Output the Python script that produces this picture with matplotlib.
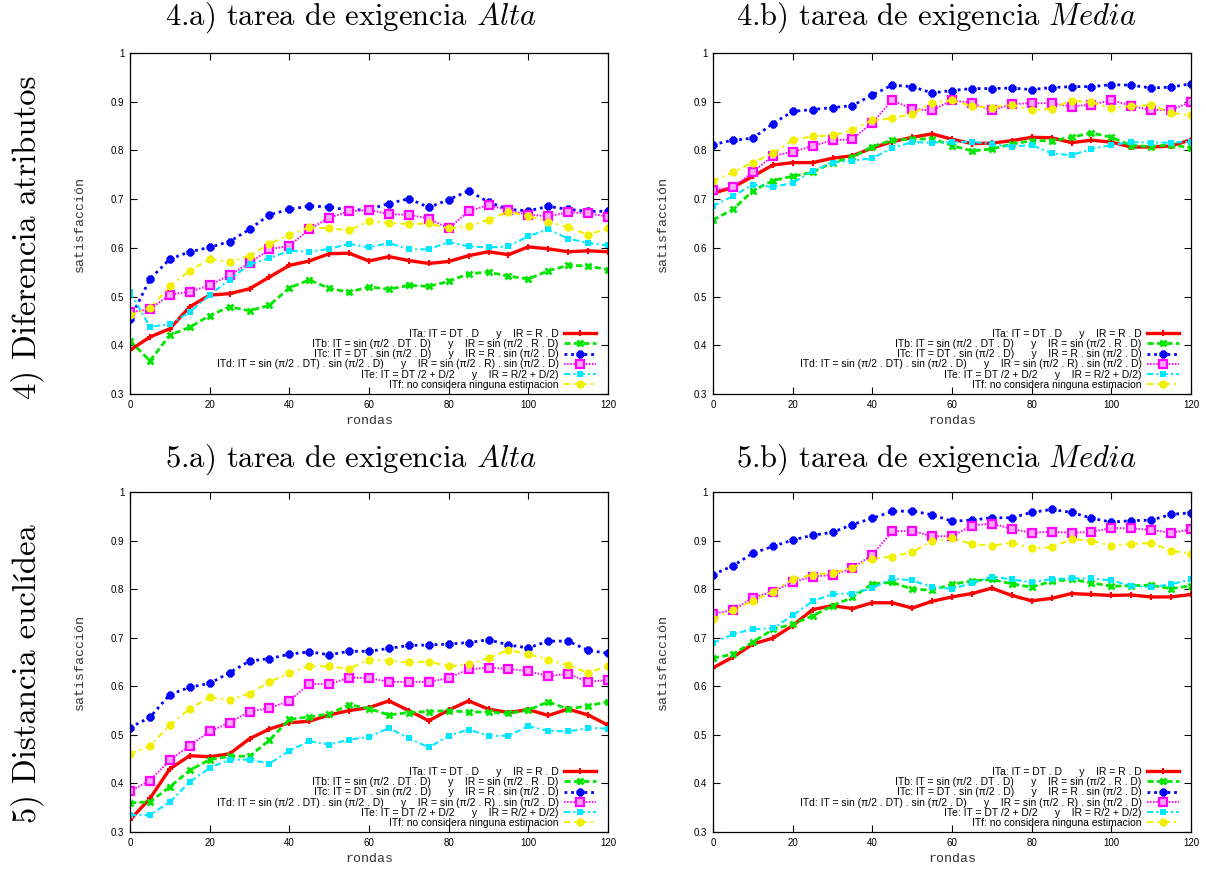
import matplotlib
matplotlib.use("Agg")
import matplotlib.pyplot as plt
from matplotlib.ticker import FixedLocator, FormatStrFormatter

plt.rcParams["mathtext.fontset"] = "cm"
plt.rcParams["font.family"] = "Liberation Sans"

rondas = [0, 5, 10, 15, 20, 25, 30, 35, 40, 45, 50, 55, 60,
          65, 70, 75, 80, 85, 90, 95, 100, 105, 110, 115, 120]

# 4.a) diferencia de atributos, exigencia alta
dif_alta_a = [0.390, 0.417, 0.434, 0.479, 0.503, 0.506, 0.516, 0.540, 0.564, 0.573, 0.588, 0.589, 0.573,
              0.582, 0.574, 0.568, 0.572, 0.584, 0.592, 0.586, 0.602, 0.598, 0.592, 0.594, 0.592]
dif_alta_b = [0.409, 0.368, 0.421, 0.437, 0.461, 0.479, 0.471, 0.482, 0.518, 0.534, 0.517, 0.509, 0.520,
              0.515, 0.523, 0.521, 0.531, 0.547, 0.550, 0.542, 0.536, 0.553, 0.564, 0.563, 0.555]
dif_alta_c = [0.453, 0.536, 0.577, 0.592, 0.601, 0.613, 0.638, 0.668, 0.679, 0.686, 0.684, 0.677, 0.679,
              0.691, 0.701, 0.683, 0.699, 0.717, 0.694, 0.679, 0.676, 0.685, 0.679, 0.675, 0.675]
dif_alta_d = [0.468, 0.474, 0.504, 0.510, 0.523, 0.544, 0.569, 0.597, 0.604, 0.638, 0.662, 0.675, 0.678,
              0.669, 0.668, 0.660, 0.640, 0.675, 0.688, 0.677, 0.668, 0.665, 0.673, 0.671, 0.664]
dif_alta_e = [0.509, 0.438, 0.443, 0.468, 0.503, 0.535, 0.566, 0.579, 0.594, 0.592, 0.598, 0.608, 0.601,
              0.610, 0.597, 0.597, 0.612, 0.603, 0.601, 0.603, 0.624, 0.638, 0.619, 0.610, 0.605]
dif_alta_f = [0.462, 0.476, 0.521, 0.553, 0.577, 0.571, 0.584, 0.608, 0.627, 0.642, 0.640, 0.636, 0.655,
              0.651, 0.649, 0.650, 0.640, 0.645, 0.658, 0.674, 0.665, 0.654, 0.642, 0.627, 0.640]

# 4.b) diferencia de atributos, exigencia media
dif_media_a = [0.712, 0.724, 0.747, 0.770, 0.775, 0.775, 0.784, 0.789, 0.805, 0.818, 0.827, 0.834, 0.823,
               0.814, 0.815, 0.820, 0.827, 0.826, 0.816, 0.821, 0.817, 0.807, 0.807, 0.809, 0.822]
dif_media_b = [0.657, 0.679, 0.717, 0.738, 0.747, 0.755, 0.775, 0.786, 0.808, 0.821, 0.823, 0.824, 0.810,
               0.799, 0.803, 0.813, 0.820, 0.820, 0.827, 0.836, 0.827, 0.810, 0.808, 0.812, 0.805]
dif_media_c = [0.812, 0.821, 0.825, 0.855, 0.880, 0.884, 0.888, 0.892, 0.914, 0.934, 0.931, 0.918, 0.923,
               0.927, 0.927, 0.928, 0.925, 0.929, 0.931, 0.931, 0.935, 0.934, 0.928, 0.930, 0.937]
dif_media_d = [0.718, 0.725, 0.755, 0.789, 0.797, 0.809, 0.821, 0.823, 0.857, 0.903, 0.885, 0.882, 0.903,
               0.897, 0.882, 0.895, 0.897, 0.897, 0.890, 0.894, 0.903, 0.892, 0.882, 0.884, 0.899]
dif_media_e = [0.686, 0.706, 0.730, 0.725, 0.733, 0.758, 0.775, 0.779, 0.784, 0.805, 0.817, 0.816, 0.817,
               0.818, 0.813, 0.808, 0.811, 0.794, 0.790, 0.803, 0.811, 0.817, 0.816, 0.816, 0.818]
dif_media_f = [0.737, 0.755, 0.775, 0.794, 0.821, 0.829, 0.831, 0.842, 0.862, 0.866, 0.875, 0.897, 0.903,
               0.891, 0.888, 0.894, 0.882, 0.886, 0.902, 0.899, 0.887, 0.891, 0.893, 0.877, 0.872]

# 5.a) distancia euclidea, exigencia alta
euc_alta_a = [0.325, 0.369, 0.430, 0.457, 0.455, 0.461, 0.492, 0.512, 0.525, 0.528, 0.541, 0.550, 0.556,
              0.570, 0.550, 0.529, 0.551, 0.570, 0.553, 0.546, 0.552, 0.540, 0.553, 0.541, 0.520]
euc_alta_b = [0.360, 0.362, 0.393, 0.427, 0.449, 0.456, 0.456, 0.489, 0.532, 0.537, 0.543, 0.562, 0.554,
              0.541, 0.546, 0.548, 0.550, 0.547, 0.547, 0.544, 0.551, 0.568, 0.553, 0.560, 0.568]
euc_alta_c = [0.515, 0.536, 0.583, 0.598, 0.606, 0.628, 0.652, 0.657, 0.666, 0.671, 0.665, 0.672, 0.672,
              0.678, 0.684, 0.685, 0.687, 0.690, 0.696, 0.685, 0.679, 0.693, 0.693, 0.674, 0.668]
euc_alta_d = [0.384, 0.406, 0.448, 0.478, 0.507, 0.525, 0.548, 0.555, 0.570, 0.605, 0.604, 0.618, 0.617,
              0.609, 0.609, 0.609, 0.617, 0.635, 0.638, 0.636, 0.631, 0.621, 0.626, 0.609, 0.613]
euc_alta_e = [0.335, 0.335, 0.362, 0.403, 0.432, 0.449, 0.449, 0.441, 0.467, 0.487, 0.480, 0.490, 0.496,
              0.514, 0.493, 0.474, 0.498, 0.511, 0.498, 0.498, 0.518, 0.508, 0.507, 0.514, 0.513]
euc_alta_f = [0.461, 0.477, 0.520, 0.554, 0.577, 0.572, 0.585, 0.609, 0.627, 0.642, 0.641, 0.636, 0.655,
              0.653, 0.649, 0.651, 0.641, 0.645, 0.658, 0.675, 0.666, 0.655, 0.643, 0.628, 0.642]

# 5.b) distancia euclidea, exigencia media
euc_media_a = [0.638, 0.660, 0.687, 0.699, 0.725, 0.758, 0.766, 0.760, 0.772, 0.772, 0.761, 0.775, 0.784,
               0.791, 0.802, 0.787, 0.776, 0.781, 0.791, 0.789, 0.787, 0.788, 0.784, 0.784, 0.789]
euc_media_b = [0.658, 0.666, 0.691, 0.717, 0.728, 0.745, 0.766, 0.783, 0.811, 0.814, 0.800, 0.798, 0.810,
               0.817, 0.820, 0.811, 0.804, 0.816, 0.820, 0.813, 0.806, 0.807, 0.808, 0.801, 0.807]
euc_media_c = [0.830, 0.848, 0.874, 0.888, 0.901, 0.911, 0.917, 0.933, 0.946, 0.960, 0.961, 0.953, 0.940,
               0.942, 0.947, 0.947, 0.958, 0.964, 0.958, 0.946, 0.938, 0.941, 0.942, 0.954, 0.957]
euc_media_d = [0.749, 0.757, 0.782, 0.795, 0.814, 0.826, 0.829, 0.843, 0.871, 0.919, 0.920, 0.909, 0.909,
               0.931, 0.935, 0.924, 0.916, 0.918, 0.916, 0.918, 0.926, 0.925, 0.922, 0.916, 0.923]
euc_media_e = [0.689, 0.707, 0.718, 0.719, 0.746, 0.775, 0.790, 0.791, 0.802, 0.822, 0.818, 0.804, 0.801,
               0.812, 0.826, 0.820, 0.814, 0.821, 0.822, 0.822, 0.818, 0.807, 0.804, 0.810, 0.820]
euc_media_f = [0.739, 0.757, 0.776, 0.795, 0.820, 0.830, 0.833, 0.844, 0.863, 0.867, 0.876, 0.899, 0.905,
               0.893, 0.889, 0.896, 0.884, 0.886, 0.903, 0.900, 0.889, 0.893, 0.895, 0.879, 0.873]

etiquetas = [
    "ITa: IT = DT . D      y    IR = R . D",
    "ITb: IT = sin (\u03c0/2 . DT . D)      y    IR = sin (\u03c0/2 . R . D)",
    "ITc: IT = DT . sin (\u03c0/2 . D)      y    IR = R . sin (\u03c0/2 . D)",
    "ITd: IT = sin (\u03c0/2 . DT) . sin (\u03c0/2 . D)      y    IR = sin (\u03c0/2 . R) . sin (\u03c0/2 . D)",
    "ITe: IT = DT /2 + D/2      y    IR = R/2 + D/2)",
    "ITf: no considera ninguna estimacion",
]

titulos = [
    "4.a) tarea de exigencia $\\mathit{Alta}$",
    "4.b) tarea de exigencia $\\mathit{Media}$",
    "5.a) tarea de exigencia $\\mathit{Alta}$",
    "5.b) tarea de exigencia $\\mathit{Media}$",
]
filas = ["4) Diferencia atributos", "5) Distancia eucl\u00eddea"]

# estilo gnuplot de cada serie
estilos = [
    dict(color="#ff0000", ls="-", lw=2.4, marker="+", ms=4.5, mew=1.5),
    dict(color="#00e600", ls=(0, (2.2, 1.2)), lw=2.0, marker="x", ms=4.5, mew=2.0),
    dict(color="#0000ff", ls=(0, (1, 1.4)), lw=2.0, marker=(8, 2, 0), ms=5.5, mew=2.3),
    dict(color="#ff00ff", ls=(0, (0.8, 0.8)), lw=1.4, marker="s", ms=5.5, mew=1.6, mfc="#ffa8ff"),
    dict(color="#00e8ff", ls=(0, (3, 1.5, 1, 1.5)), lw=1.5, marker="s", ms=4.5, mew=0),
    dict(color="#f0f000", ls=(0, (3, 2, 1, 2)), lw=1.5, marker="o", ms=6, mew=0),
]

paneles = [
    [dif_alta_a, dif_alta_b, dif_alta_c, dif_alta_d, dif_alta_e, dif_alta_f],
    [dif_media_a, dif_media_b, dif_media_c, dif_media_d, dif_media_e, dif_media_f],
    [euc_alta_a, euc_alta_b, euc_alta_c, euc_alta_d, euc_alta_e, euc_alta_f],
    [euc_media_a, euc_media_b, euc_media_c, euc_media_d, euc_media_e, euc_media_f],
]

W, H = 1206, 869
fig = plt.figure(figsize=(W / 100, H / 100), dpi=100)

# cajas de los ejes en pixeles: izquierda, arriba, derecha, abajo
cajas = [(130, 53, 608, 394), (713, 53, 1191, 394),
         (130, 492, 608, 832), (713, 492, 1191, 832)]
centros_titulo = [(351, 18), (936, 18), (351, 460), (936, 460)]

for k in range(4):
    x0, y0, x1, y1 = cajas[k]
    ax = fig.add_axes([x0 / W, 1 - y1 / H, (x1 - x0) / W, (y1 - y0) / H])
    for serie, est, lab in zip(paneles[k], estilos, etiquetas):
        ax.plot(rondas, serie, label=lab, **est)
    ax.set_xlim(0, 120)
    ax.set_ylim(0.3, 1.0)
    ax.xaxis.set_major_locator(FixedLocator([0, 20, 40, 60, 80, 100, 120]))
    ax.yaxis.set_major_locator(FixedLocator([0.3, 0.4, 0.5, 0.6, 0.7, 0.8, 0.9, 1.0]))
    ax.yaxis.set_major_formatter(FormatStrFormatter("%g"))
    ax.tick_params(direction="in", length=5, width=0.8, top=True, right=True,
                   labelsize=7, pad=4)
    for s in ax.spines.values():
        s.set_linewidth(0.9)
    ax.set_xlabel("rondas", family="Liberation Mono", fontsize=9.5, color="#333333")
    ax.set_ylabel("satisfacci\u00f3n", family="Liberation Mono", fontsize=9.5, color="#333333")
    ax.xaxis.set_label_coords(0.5, -0.062)
    ax.yaxis.set_label_coords(-0.092, 0.5)
    ax.legend(loc="lower right", bbox_to_anchor=(0.975, 0.012), frameon=False,
              markerfirst=False, fontsize=7.5, labelspacing=0.02, handlelength=3.1,
              handletextpad=0.5, borderpad=0, borderaxespad=0, numpoints=1)
    cx, cy = centros_titulo[k]
    fig.text(cx / W, 1 - cy / H, titulos[k], family="cmr10", fontsize=22,
             ha="center", va="center")

for texto, cy in zip(filas, [237, 674]):
    fig.text(27 / W, 1 - cy / H, texto, family=["cmr10", "STIXGeneral"],
             fontsize=23.5, rotation=90, ha="center", va="center")

fig.savefig("out.png", dpi=100)
